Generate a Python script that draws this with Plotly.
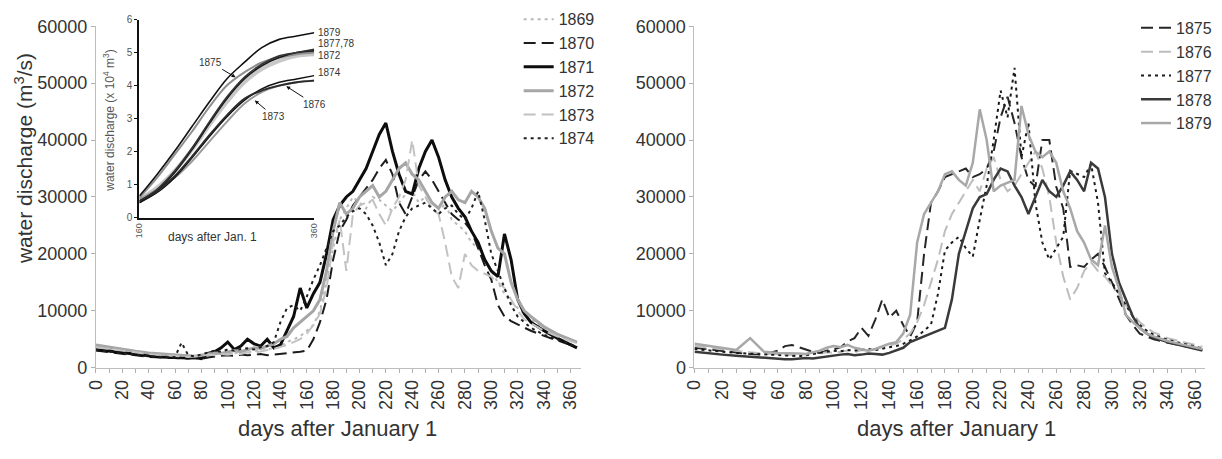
import plotly.graph_objects as go

FONT = "Liberation Sans, Arial, sans-serif"

# ---------------- data ----------------
DAYS = [0, 10, 20, 30, 40, 50,
        60, 65, 70, 75, 80, 85, 90, 95, 100,
        105, 110, 115, 120, 125, 130, 135, 140, 145, 150,
        155, 160, 165, 170, 175, 180, 185, 190, 195, 200,
        205, 210, 215, 220, 225, 230, 235, 240, 245, 250,
        255, 260, 265, 270, 275, 280, 285, 290, 295, 300,
        305, 310, 315, 320, 325, 330,
        340, 350, 360, 365]

LEFT_YEARS = ["1869", "1870", "1871", "1872", "1873", "1874"]
RIGHT_YEARS = ["1875", "1876", "1877", "1878", "1879"]

y1869 = [3800, 3400, 3000, 2700, 2400, 2200,
         2100, 2000, 2000, 1900, 2100, 2200, 2400, 2300, 2600,
         2500, 2800, 2600, 3000, 2900, 3200, 3500, 3800, 4500, 5000,
         5500, 6500, 7500, 10000, 15000, 21000, 26000, 28000, 30000, 29000,
         28000, 30000, 29500, 28500, 27500, 29000, 30500, 31000, 29000, 30000,
         28000, 27000, 29000, 26000, 25000, 24000, 22000, 21000, 19000, 17000,
         15000, 13000, 11500, 10500, 9500, 8500,
         7000, 5800, 4800, 4400]
y1870 = [3000, 2700, 2400, 2100, 1900, 1800,
         1700, 1700, 1600, 1700, 1500, 1800, 2000, 2100, 2200,
         2100, 2300, 2200, 2300, 2400, 2200, 2300, 2500, 2600, 2700,
         2800, 3000, 5000, 8000, 12000, 19000, 24000, 26000, 28500, 30000,
         31500, 33000, 35000, 36500, 34000, 29000, 27000, 30000, 33000, 34500,
         33000, 31000, 29000, 27000, 26000, 25500, 24000, 21000, 18000, 15500,
         11000, 9000, 8200, 7600, 7000, 6500,
         5600, 4800, 4000, 3600]
y1871 = [3200, 2900, 2600, 2300, 2100, 1900,
         1800, 1700, 1700, 1800, 1600, 2500, 2800, 3500, 4500,
         3200, 3800, 5000, 4200, 3800, 5000, 3500, 4000, 6500, 9000,
         14000, 10500, 13000, 15000, 20000, 26000, 28500, 30000, 31000, 33000,
         35000, 38000, 41000, 43000, 38000, 34000, 31000, 30500, 35000, 38000,
         40000, 37000, 33000, 30000, 28000, 26500, 24000, 22000, 19000, 17000,
         16000, 23500, 19000, 12000, 9500, 8000,
         6500, 5200, 4000, 3500]
y1872 = [4000, 3600, 3200, 2900, 2600, 2400,
         2300, 2200, 2100, 2000, 2200, 2400, 2600, 2500, 2800,
         3000, 2800, 3200, 3500, 3400, 3800, 4200, 5000, 5500, 7000,
         8000, 9000, 10000, 12000, 17000, 24000, 29000, 27000, 28000, 30000,
         31000, 32000, 30000, 31000, 33000, 35000, 36000, 34000, 33000, 31000,
         29000, 28000, 30000, 31000, 29500, 29000, 31000, 30000, 28000, 24000,
         21000, 20000, 15000, 12000, 10000, 9000,
         7200, 5900, 4900, 4500]
y1873 = [3600, 3300, 2900, 2600, 2400, 2200,
         2100, 2000, 1900, 2000, 2100, 2300, 2200, 2400, 2300,
         2500, 2400, 2700, 2600, 2900, 3100, 3300, 3600, 4000, 4500,
         5000, 6000, 7500, 9500, 14000, 22000, 26000, 17000, 27000, 28500,
         29000, 29500, 27000, 25000, 28000, 30000, 33000, 40000, 32000, 30000,
         28000, 27000, 22000, 16000, 14000, 20000, 18000, 17000, 16500, 16000,
         15000, 14000, 12000, 10000, 8500, 7800,
         6500, 5500, 4700, 4300]
y1874 = [3100, 2800, 2500, 2200, 2000, 1900,
         1900, 4400, 2200, 2000, 2300, 2600, 3000, 2800, 3200,
         3000, 3300, 3400, 3200, 3600, 3800, 4500, 8000, 10500, 11000,
         10000, 12500, 15500, 18000, 21000, 24000, 25000, 26500, 27500, 28000,
         27000, 25000, 22000, 18000, 20000, 24000, 26500, 28000, 28500, 29000,
         28000, 27000, 28000, 28500, 27000, 26000, 28000, 31000, 26000, 20000,
         17000, 14000, 11000, 9000, 8000, 7000,
         5800, 4900, 4100, 3700]

y1875 = [3500, 3200, 2900, 2600, 2400, 2300,
         3000, 3800, 4000, 3600, 3200, 2800, 2600, 3000, 3200,
         3600, 4600, 5200, 7000, 5600, 8500, 12000, 8800, 10000, 7500,
         5500, 8000, 20000, 29000, 31000, 33500, 34000, 34500, 35000, 33500,
         34000, 35000, 38000, 44000, 47600, 43000, 37000, 33000, 31800, 40000,
         40000, 31800, 28000, 17700, 18000, 17700, 19000, 20000, 17700, 15000,
         12000, 9300, 7500, 6000, 5500, 5000,
         4400, 3900, 3400, 3100]
y1876 = [3800, 3500, 3200, 2900, 2700, 2500,
         2400, 2300, 2300, 2200, 2400, 2600, 2500, 2700, 2600,
         2800, 3000, 2700, 3100, 3000, 3300, 3500, 3800, 4200, 5000,
         6000, 8000, 11000, 15000, 19000, 24000, 27000, 29000, 31000, 33000,
         31000, 35000, 37000, 33000, 31000, 32000, 34000, 36000, 38000, 35000,
         30000, 22000, 16000, 12000, 14000, 17000, 18500, 17000, 16000, 14500,
         13000, 11000, 9500, 8000, 7000, 6200,
         5200, 4600, 4000, 3700]
y1877 = [3300, 3000, 2800, 2600, 2500, 2300,
         2200, 2200, 2100, 2000, 2200, 2300, 2500, 2700, 3000,
         2900, 3100, 3000, 3200, 3300, 3100, 3400, 3600, 3800, 4200,
         4800, 5500, 6500, 7600, 13000, 20600, 22000, 23000, 21000, 19500,
         26000, 32000, 40000, 48700, 44000, 52700, 37000, 43000, 29000, 22000,
         19000, 21000, 23000, 34600, 34000, 33500, 35800, 29000, 16600, 15000,
         13000, 11000, 9000, 7500, 6500, 5800,
         4900, 4300, 3700, 3400]
y1878 = [2800, 2500, 2300, 2100, 1900, 1700,
         1600, 1500, 1500, 1600, 1700, 1600, 1800, 2000, 2200,
         2300, 2400, 2200, 2300, 2500, 2400, 2300, 2600, 3000, 3500,
         4500, 5000, 5500, 6000, 6500, 7000, 12000, 20000, 24000, 28000,
         30000, 30500, 33000, 35000, 34500, 32000, 30000, 27000, 30000, 33000,
         31000, 30000, 32000, 34500, 33000, 31000, 36000, 35000, 30000, 20000,
         15000, 12000, 9000, 7000, 6000, 5300,
         4500, 3900, 3300, 3000]
y1879 = [4200, 3800, 3400, 3100, 5200, 2800,
         2600, 2600, 2500, 2500, 2400, 2700, 3000, 3500, 3800,
         3600, 4000, 3500, 3200, 3000, 3300, 3800, 4200, 4500, 6000,
         9300, 22000, 27000, 29000, 31000, 34000, 34500, 33000, 32000, 36000,
         45400, 40000, 31000, 32000, 32500, 33000, 46000, 41000, 38000, 37000,
         38000, 36000, 31000, 28000, 24000, 22000, 19000, 18000, 25000, 17700,
         14000, 9300, 8000, 7000, 6000, 5500,
         4700, 4100, 3600, 3300]

LEFT_VALUES = [y1869, y1870, y1871, y1872, y1873, y1874]
RIGHT_VALUES = [y1875, y1876, y1877, y1878, y1879]

# inset: cumulative water discharge (x 10^4 m^3)
INSET_DAYS = [160, 180, 200, 220, 240, 260, 280, 300, 320, 340, 360]
c1879 = [0.65, 1.3, 2.0, 2.75, 3.5, 4.2, 4.7, 5.15, 5.4, 5.5, 5.6]
c1875 = [0.6, 1.2, 1.9, 2.6, 3.35, 4.0, 4.4, 4.7, 4.85, 4.95, 5.0]
c1877 = [0.45, 0.8, 1.35, 2.05, 2.85, 3.6, 4.2, 4.6, 4.85, 5.0, 5.05]
c1878 = [0.5, 0.85, 1.4, 2.1, 2.9, 3.65, 4.25, 4.65, 4.9, 5.0, 5.1]
c1872 = [0.55, 0.9, 1.4, 2.05, 2.8, 3.5, 4.1, 4.5, 4.75, 4.9, 4.95]
c1874 = [0.45, 0.75, 1.2, 1.8, 2.45, 3.05, 3.55, 3.9, 4.1, 4.2, 4.3]
c1876 = [0.5, 0.8, 1.25, 1.85, 2.5, 3.1, 3.6, 3.85, 4.0, 4.1, 4.15]
c1873 = [0.55, 0.85, 1.2, 1.7, 2.3, 2.9, 3.45, 3.8, 4.0, 4.1, 4.15]
INSET_SERIES = [("1872", c1872), ("1873", c1873), ("1875", c1875), ("1877", c1877),
                ("1878", c1878), ("1874", c1874), ("1876", c1876), ("1879", c1879)]
INSET_END_LABELS = [("1879", 5.62), ("1877,78", 5.28), ("1872", 4.92), ("1874", 4.4)]
INSET_ARROWS = [("1875", 270, 4.25, -25, -15), ("1873", 292, 3.55, 19, 16), ("1876", 328, 3.98, 28, 18)]

# ---------------- styles ----------------
LEFT_STYLE = {
    "1869": dict(color="#b8b8b8", width=2, dash="3px,4px"),
    "1870": dict(color="#1c1c1c", width=2, dash="12px,6px"),
    "1871": dict(color="#0d0d0d", width=3),
    "1872": dict(color="#a6a6a6", width=3),
    "1873": dict(color="#c2c2c2", width=2, dash="12px,6px"),
    "1874": dict(color="#202020", width=2, dash="3px,4px"),
}
RIGHT_STYLE = {
    "1875": dict(color="#262626", width=2, dash="12px,6px"),
    "1876": dict(color="#bdbdbd", width=2, dash="12px,6px"),
    "1877": dict(color="#1a1a1a", width=2, dash="3px,4px"),
    "1878": dict(color="#3a3a3a", width=2.5),
    "1879": dict(color="#a8a8a8", width=2.5),
}
INSET_STYLE = {
    "1872": dict(color="#c8c8c8", width=4),
    "1873": dict(color="#9a9a9a", width=2),
    "1875": dict(color="#8f8f8f", width=2),
    "1877": dict(color="#1a1a1a", width=1.6),
    "1878": dict(color="#333333", width=1.6),
    "1874": dict(color="#111111", width=1.4),
    "1876": dict(color="#2a2a2a", width=1.8),
    "1879": dict(color="#111111", width=1.6),
}

fig = go.Figure()

for yr, vals in zip(LEFT_YEARS, LEFT_VALUES):
    fig.add_trace(go.Scatter(x=DAYS, y=vals, mode="lines", name=yr,
                             line=LEFT_STYLE[yr], xaxis="x", yaxis="y", legend="legend"))
for yr, vals in zip(RIGHT_YEARS, RIGHT_VALUES):
    fig.add_trace(go.Scatter(x=DAYS, y=vals, mode="lines", name=yr,
                             line=RIGHT_STYLE[yr], xaxis="x2", yaxis="y2", legend="legend2"))
for yr, vals in INSET_SERIES:
    fig.add_trace(go.Scatter(x=INSET_DAYS, y=vals, mode="lines", name=yr, showlegend=False,
                             line=dict(INSET_STYLE[yr], shape="spline"), xaxis="x3", yaxis="y3"))

W, H = 1222, 459
def px(x):
    return x / W
def py(y):
    return 1 - y / H

tickfont = dict(family=FONT, size=18, color="#333333")
main_x = dict(range=[0, 368], tick0=0, dtick=20, tickangle=-90, ticks="outside", ticklen=4,
              tickcolor="#b0b0b0", showline=True, linecolor="#bdbdbd", linewidth=1,
              showgrid=False, zeroline=False, tickfont=tickfont,
              minor=dict(dtick=10, ticks="outside", ticklen=4, tickcolor="#b0b0b0"))
main_y = dict(range=[0, 60000], dtick=10000, tickformat="d", ticks="outside", ticklen=4,
              tickcolor="#b0b0b0", showline=True, linecolor="#bdbdbd", linewidth=1,
              showgrid=False, zeroline=False, tickfont=tickfont)

legend_common = dict(xanchor="left", yanchor="top", bgcolor="rgba(0,0,0,0)",
                     font=dict(family=FONT, size=16, color="#333333"), tracegroupgap=0)

annotations = [
    dict(text="days after January 1", xref="paper", yref="paper", x=px(332), y=py(438),
         xanchor="center", yanchor="middle", showarrow=False,
         font=dict(family=FONT, size=22, color="#333333")),
    dict(text="days after January 1", xref="paper", yref="paper", x=px(958), y=py(438),
         xanchor="center", yanchor="middle", showarrow=False,
         font=dict(family=FONT, size=22, color="#333333")),
    dict(text="water discharge (m<sup>3</sup>/s)", xref="paper", yref="paper", x=px(14), y=py(155),
         xanchor="center", yanchor="middle", textangle=-90, showarrow=False,
         font=dict(family=FONT, size=21, color="#333333")),
    dict(text="days after Jan. 1", xref="paper", yref="paper", x=px(205), y=py(237),
         xanchor="center", yanchor="middle", showarrow=False,
         font=dict(family=FONT, size=12, color="#333333")),
    dict(text="water discharge (x 10<sup>4</sup> m<sup>3</sup>)", xref="paper", yref="paper",
         x=px(100), y=py(116), xanchor="center", yanchor="middle", textangle=-90, showarrow=False,
         font=dict(family=FONT, size=12, color="#555555")),
]
for lab, yv in INSET_END_LABELS:
    annotations.append(dict(text=lab, xref="x3", yref="y3", x=360, y=yv, xanchor="left",
                            yanchor="middle", xshift=2, showarrow=False,
                            font=dict(family=FONT, size=10, color="#333333")))
for lab, xv, yv, axv, ayv in INSET_ARROWS:
    annotations.append(dict(text=lab, xref="x3", yref="y3", x=xv, y=yv, ax=axv, ay=ayv,
                            showarrow=True, arrowhead=2, arrowsize=0.8, arrowwidth=1,
                            arrowcolor="#111111",
                            font=dict(family=FONT, size=10, color="#333333")))

fig.update_layout(
    width=W, height=H,
    margin=dict(l=0, r=0, t=0, b=0),
    paper_bgcolor="white", plot_bgcolor="rgba(0,0,0,0)",
    font=dict(family=FONT, color="#333333"),
    xaxis=dict(main_x, domain=[px(87), px(578)], anchor="y"),
    yaxis=dict(main_y, domain=[py(374), py(17)], anchor="x"),
    xaxis2=dict(main_x, range=[0, 367], domain=[px(693), px(1210)], anchor="y2"),
    yaxis2=dict(main_y, domain=[py(374), py(17)], anchor="x2"),
    xaxis3=dict(domain=[px(131), px(308)], anchor="y3", range=[160, 360], tickvals=[160, 360],
                tickangle=-90, ticks="", showline=True, linecolor="#111111", linewidth=2,
                showgrid=False, zeroline=False,
                tickfont=dict(family=FONT, size=9, color="#555555")),
    yaxis3=dict(domain=[py(217), py(10)], anchor="x3", range=[0, 6], dtick=1,
                ticks="outside", ticklen=3, tickcolor="#111111", showline=True,
                linecolor="#111111", linewidth=2, showgrid=False, zeroline=False,
                tickfont=dict(family=FONT, size=10, color="#555555")),
    legend=dict(legend_common, x=px(515), y=py(-8)),
    legend2=dict(legend_common, x=px(1140), y=py(1)),
    annotations=annotations,
    showlegend=True,
)

fig.write_html("out.html")
